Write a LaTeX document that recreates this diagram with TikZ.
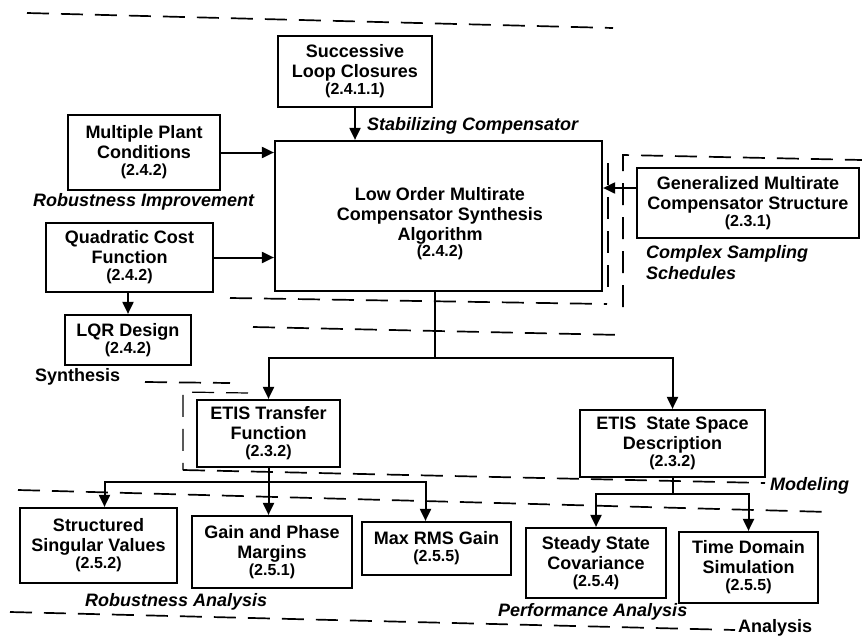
\documentclass[tikz,border=0pt]{standalone}
\usepackage{fontspec}
\setmainfont{Liberation Sans}
\usetikzlibrary{arrows.meta}
\newcommand\numf{\fontsize{16}{18}\selectfont}
\begin{document}
\begin{tikzpicture}[x=1pt,y=-1pt,
  box/.style={draw,line width=2.2pt,inner sep=0pt,align=center,font=\fontsize{18}{20}\selectfont\bfseries},
  arr/.style={-{Triangle[length=12pt,width=11pt]},line width=2pt},
  cline/.style={line width=2pt},
  dsh/.style={line width=1.7pt,dash pattern=on 22pt off 12pt},
  lbl/.style={inner sep=0pt,font=\fontsize{18}{21}\selectfont\bfseries\itshape},
  lblu/.style={inner sep=0pt,font=\fontsize{18}{21}\selectfont\bfseries}]
\useasboundingbox (0,0) rectangle (862,637);
\fill[white] (0,0) rectangle (862,637);

% boxes
\node[box,minimum width=154pt,minimum height=71pt] (slc) at (355,71.5) {Successive\\Loop Closures\\[-3pt]{\numf(2.4.1.1)}};
\node[box,minimum width=152pt,minimum height=75pt] (mpc) at (144,152.5) {Multiple Plant\\Conditions\\[-3pt]{\numf(2.4.2)}};
\node[box,minimum width=327pt,minimum height=150pt] (main) at (438.5,216) {};
\node[inner sep=0pt,align=center,font=\fontsize{18}{20}\selectfont\bfseries] (maintext) at (440,224) {Low Order Multirate\\Compensator Synthesis\\Algorithm\\[-4pt]{\numf(2.4.2)}};
\node[box,minimum width=167pt,minimum height=69pt] (qcf) at (129.5,257.5) {Quadratic Cost\\Function\\[-3pt]{\numf(2.4.2)}};
\node[box,minimum width=126pt,minimum height=50pt] (lqr) at (128,340) {LQR Design\\[-3pt]{\numf(2.4.2)}};
\node[box,minimum width=222pt,minimum height=70pt] (gmc) at (748,203) {Generalized Multirate\\Compensator Structure\\[-3pt]{\numf(2.3.1)}};
\node[box,minimum width=143pt,minimum height=67pt] (et) at (268.5,433.5) {ETIS Transfer\\Function\\[-3pt]{\numf(2.3.2)}};
\node[box,minimum width=185pt,minimum height=67pt] (es) at (672.5,443.5) {ETIS~ State Space\\Description\\[-3pt]{\numf(2.3.2)}};
\node[box,minimum width=157pt,minimum height=75pt] (sv) at (98.5,545.5) {Structured\\Singular Values\\[-3pt]{\numf(2.5.2)}};
\node[box,minimum width=160pt,minimum height=72pt] (gp) at (272,552) {Gain and Phase\\Margins\\[-3pt]{\numf(2.5.1)}};
\node[box,minimum width=149pt,minimum height=53pt] (mr) at (436.5,548.5) {Max RMS Gain\\[-3pt]{\numf(2.5.5)}};
\node[box,minimum width=140pt,minimum height=70pt] (ss) at (596,563) {Steady State\\Covariance\\[-3pt]{\numf(2.5.4)}};
\node[box,minimum width=139pt,minimum height=71pt] (td) at (748.5,567.5) {Time Domain\\Simulation\\[-3pt]{\numf(2.5.5)}};

% labels
\node[lbl,anchor=west] (l1) at (367,126) {Stabilizing Compensator};
\node[lbl,anchor=west] (l2) at (33,202) {Robustness Improvement};
\node[lblu,anchor=west] (l3) at (35,377) {Synthesis};
\node[lbl,anchor=north west,align=left] (l4) at (646,245) {Complex Sampling\\Schedules};
\node[lbl,anchor=west] (l5) at (770,486) {Modeling};
\node[lbl,anchor=west] (l6) at (85,602) {Robustness Analysis};
\node[lbl,anchor=west] (l7) at (498,612) {Performance Analysis};
\node[lblu,anchor=west] (l8) at (738,628) {Analysis};

% connectors
\draw[arr] (slc.south) -- (slc.south |- main.north);
\draw[arr] (mpc.east) -- (mpc.east -| main.west);
\draw[arr] (qcf.east) -- (qcf.east -| main.west);
\draw[arr] (gmc.west |- 0,188) -- (main.east |- 0,188);
\draw[arr] (qcf.south -| lqr.north) -- (lqr.north);

\coordinate (j1) at (435,358);
\draw[cline] (main.south -| j1) -- (j1);
\draw[arr] (j1) -| (et.north);
\draw[arr] (j1) -| (es.north);

\coordinate (j2) at (268.5,482);
\draw[cline] (et.south) -- (j2);
\draw[arr] (j2) -| ([xshift=6pt]sv.north);
\draw[arr] (j2) -- (j2 |- gp.north);
\draw[arr] (j2) -| ([xshift=-11pt]mr.north);

\coordinate (j3) at (672.5,494);
\draw[cline] (es.south) -- (j3);
\draw[arr] (j3) -| (ss.north);
\draw[arr] (j3) -| (td.north);

% dashed region boundaries
\draw[dsh] (27,13) -- (613,28);
\draw[dsh] (623,307) -- (623,155) -- (862,160);
\draw[dsh,line width=1.2pt] (608,163) -- (608,292);
\draw[dsh] (230,298) -- (607,304);
\draw[dsh] (253,327) -- (622,335);
\draw[dsh] (145,382) -- (230,383);
\draw[dsh,line width=1.2pt] (248,393) -- (183,392) -- (183,470);
\draw[dsh] (183,470) -- (765,483);
\draw[dsh] (18,490) -- (829,512);
\draw[dsh] (10,612) -- (735,630);
\end{tikzpicture}
\end{document}
